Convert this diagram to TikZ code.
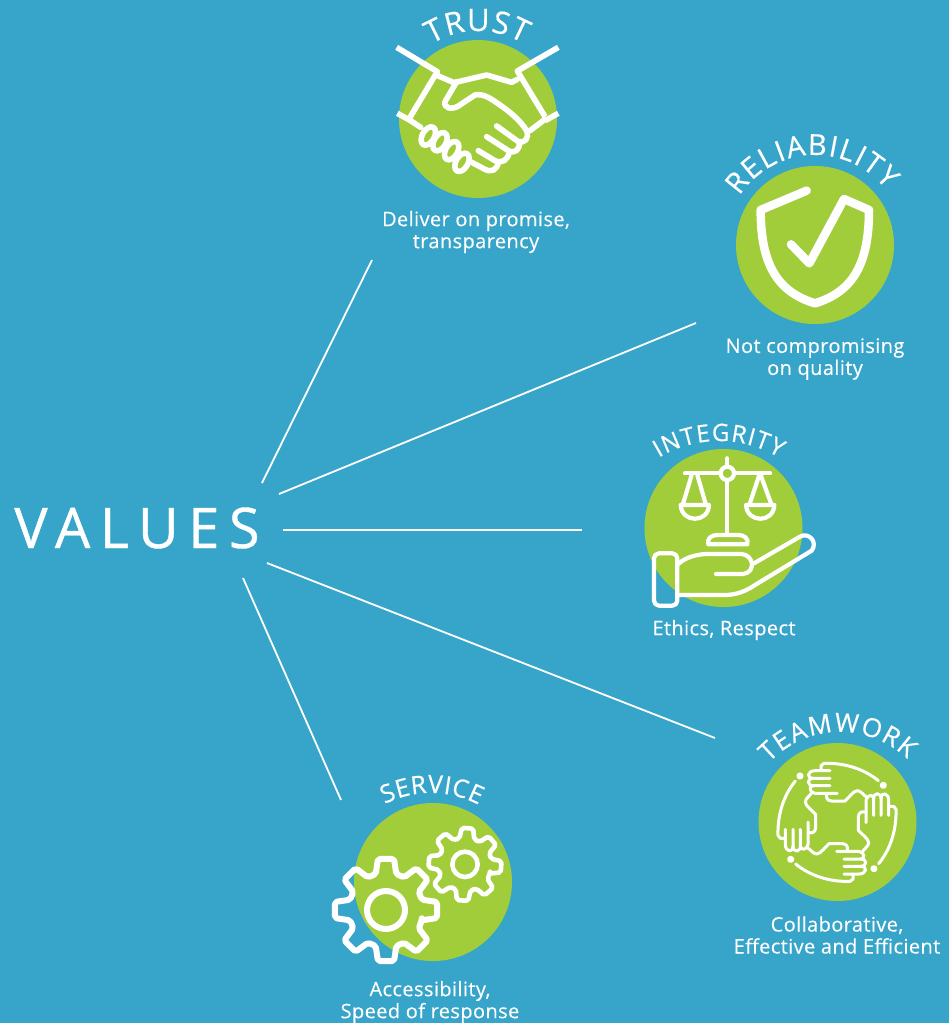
\documentclass[tikz,border=0pt]{standalone}
\usepackage{fontspec}
\setmainfont{Open Sans}
\newfontfamily\bigfont[LetterSpace=17,FakeBold=0.7]{Open Sans}
\newfontfamily\smallfont[LetterSpace=2,FakeBold=0.25]{Open Sans}
\newfontfamily\titlefont[FakeBold=0.4]{Open Sans}
\usetikzlibrary{decorations.text}
\definecolor{bgblue}{HTML}{37A5CA}
\definecolor{leaf}{HTML}{A2CD3A}
\tikzset{
  disc/.style={circle,fill=leaf,minimum size=158pt,inner sep=0pt},
  link/.style={draw=white,line width=1.8pt},
  caption/.style={text=white,font=\smallfont\fontsize{20}{22}\selectfont,align=center,inner sep=0pt},
  icon/.style={draw=white,line cap=round,line join=round},
}
\newcommand{\arctitle}[7]{%
  \begin{scope}[shift={(#1,#2)}]
  \path[decorate,decoration={text along path,text align={fit to path},
     text={|\titlefont\fontsize{#6}{#6}\selectfont\color{white}|#7}}]
     (#4:#3pt) arc[start angle=#4,end angle=#5,radius=#3pt];
  \end{scope}}
\newcommand{\gearshape}[6]{% cx cy tip root rot lw
  \draw[icon,line width=#6,rounded corners=2pt]
   ({#1+#4*cos(#5-16)},{#2-#4*sin(#5-16)})
   \foreach \k in {0,45,...,315}{
     -- ({#1+#4*cos(#5+\k-16)},{#2-#4*sin(#5+\k-16)})
     -- ({#1+#3*cos(#5+\k-9)},{#2-#3*sin(#5+\k-9)})
     -- ({#1+#3*cos(#5+\k+9)},{#2-#3*sin(#5+\k+9)})
     -- ({#1+#4*cos(#5+\k+16)},{#2-#4*sin(#5+\k+16)})
   } -- cycle;}
\begin{document}
\begin{tikzpicture}[x=1pt,y=-1pt]
\useasboundingbox (0,0) rectangle (949,1023);
\fill[bgblue] (0,0) rectangle (949,1023);

% discs
\node[disc] (trust) at (478,119) {};
\node[disc] (reliab) at (815,245) {};
\node[disc] (integ) at (723.5,528) {};
\node[disc] (team) at (837.5,822) {};
\node[disc] (serv) at (433,882) {};

% centre word
\node[text=white,font=\bigfont\fontsize{56}{56}\selectfont,inner sep=0pt] (values) at (137,528) {VALUES};

% connectors
\coordinate (t1) at (262,483); \coordinate (t2) at (372,260);
\coordinate (r1) at (279,494); \coordinate (r2) at (696,323);
\coordinate (i1) at (283,530); \coordinate (i2) at (582,530);
\coordinate (w1) at (267,563); \coordinate (w2) at (715,738);
\coordinate (s1) at (243,578); \coordinate (s2) at (341,800);
\draw[link] (t1) -- (t2);
\draw[link] (r1) -- (r2);
\draw[link] (i1) -- (i2);
\draw[link] (w1) -- (w2);
\draw[link] (s1) -- (s2);

% titles
\arctitle{478}{119}{88}{122}{59}{31}{TRUST}
\arctitle{815}{245}{90}{147}{38}{29}{RELIABILITY}
\arctitle{719}{558}{117}{121}{59}{24}{INTEGRITY}
\arctitle{840}{829}{97}{137}{46}{26}{TEAMWORK}
\arctitle{431}{895}{102}{117}{62}{25}{SERVICE}

% captions
\node[caption] (ct) at (476,232) {Deliver on promise,\\transparency};
\node[caption] (cr) at (815,359) {Not compromising\\on quality};
\node[caption] (ci) at (724,630) {Ethics, Respect};
\node[caption] (cw) at (837,935) {Collaborative,\\Effective and Efficient};
\node[caption] (cs) at (430,1002) {Accessibility,\\Speed of response};

% handshake
\begin{scope}[shift={(380,0)},x=0.33333pt,y=-0.33333pt]
\tikzset{every path/.append style={icon,line width=5.6pt}}
\draw[line cap=butt] (50,142) -- (172,215) -- (90,352);
\draw[line cap=butt] (52,340) -- (92,362);
\draw[line cap=butt] (535,142) -- (412,213) -- (495,350);
\draw[line cap=butt] (535,340) -- (495,362);
\draw (175,228) -- (222,248) -- (320,225) -- (395,247) -- (412,238);
\draw (230,245) -- (195,305) .. controls (190,325) and (215,330) .. (235,318) -- (285,285)
      .. controls (310,280) and (330,295) .. (350,308) .. controls (390,335) and (420,360) .. (440,392);
\draw (495,358) -- (450,392);
\draw (440,392) .. controls (448,415) and (435,430) .. (415,425) -- (350,378);
\draw (418,425) .. controls (420,450) and (405,462) .. (385,452) -- (320,410);
\draw (388,455) .. controls (385,480) and (365,492) .. (345,482) -- (295,452);
\draw (355,488) .. controls (350,510) and (335,518) .. (315,508) -- (262,480);
\draw (92,362) -- (122,382);
\foreach \a/\b in {145/408,180/425,215/452,246/487}{
  \draw[fill=leaf,rotate around={60:(\a,\b)}] (\a,\b) ellipse [x radius=30,y radius=18];
}
\end{scope}

% shield
\begin{scope}[shift={(720,130)},x=0.33333pt,y=-0.33333pt]
\draw[icon,line width=8.5pt] (260,182) -- (122,240)
  .. controls (122,400) and (170,485) .. (285,520)
  .. controls (400,485) and (447,400) .. (447,240)
  -- (372,207) -- (268,400) -- (213,343);
\end{scope}

% scales and hand
\begin{scope}[shift={(640,420)},x=0.33333pt,y=-0.33333pt]
\tikzset{every path/.append style={icon,line width=4.2pt}}
\draw (262,115) -- (262,345);
\draw (135,160) -- (390,160);
\draw[fill=leaf] (262,160) circle[radius=20];
\draw (155,165) -- (128,255) (172,165) -- (198,255);
\draw (358,165) -- (328,255) (362,165) -- (395,255);
\draw (122,255) -- (207,255) .. controls (205,310) and (125,310) .. (122,255);
\draw (318,255) -- (403,255) .. controls (401,310) and (321,310) .. (318,255);
\draw (205,373) .. controls (200,355) and (215,345) .. (232,345) -- (295,345)
   .. controls (312,345) and (327,355) .. (322,373) -- cycle;
\draw[rounded corners=5pt] (42,400) rectangle (112,557);
\draw (115,432) .. controls (140,408) and (180,402) .. (205,402) -- (305,402)
   .. controls (340,405) and (350,455) .. (310,462) -- (228,462);
\draw (342,430) -- (480,350) .. controls (505,335) and (535,365) .. (515,392)
   -- (345,495) .. controls (305,522) and (275,525) .. (250,525) -- (115,525);
\end{scope}

% teamwork
\begin{scope}[shift={(750,720)},x=0.33333pt,y=-0.33333pt]
\foreach \r in {0,90,180,270}{
\begin{scope}[rotate around={\r:(261,307)}]
\tikzset{every path/.append style={icon,line width=3pt}}
\draw (385,182) .. controls (340,145) and (280,128) .. (222,130) -- (213,137) -- (213,152);
\draw (240,152) -- (195,152) .. controls (172,152) and (168,175) .. (190,175) -- (240,175);
\draw (190,175) .. controls (170,175) and (170,197) .. (190,197) -- (240,197);
\draw (190,197) .. controls (175,197) and (178,218) .. (195,220) -- (262,220);
\draw (230,222) .. controls (228,235) and (232,242) .. (245,243) -- (285,243)
   .. controls (295,235) and (310,212) .. (322,212) .. controls (332,212) and (340,225) .. (352,233);
\fill[white] (400,196) circle[radius=6];
\end{scope}}
\end{scope}

% gears
\begin{scope}[shift={(325,770)},x=0.33333pt,y=-0.33333pt]
\gearshape{183}{420}{155}{112}{0}{6pt}
\draw[icon,line width=6pt] (183,420) circle[radius=57];
\gearshape{420}{283}{110}{80}{-4}{4.6pt}
\draw[icon,line width=4.6pt] (420,283) circle[radius=38];
\end{scope}
\end{tikzpicture}
\end{document}
